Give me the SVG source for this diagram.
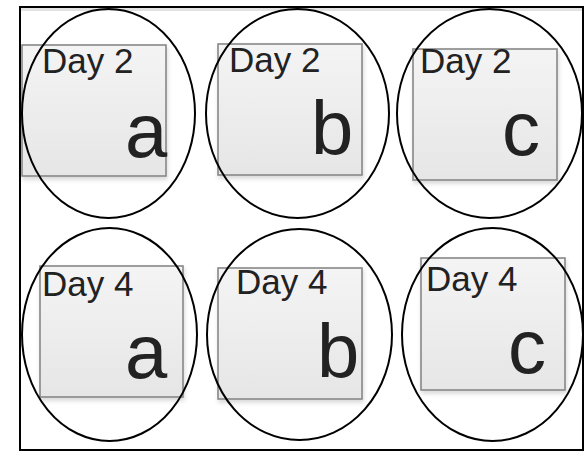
<svg xmlns="http://www.w3.org/2000/svg" width="588" height="453" viewBox="0 0 588 453">
<defs>
<linearGradient id="g" x1="0" y1="0" x2="0" y2="1">
<stop offset="0" stop-color="#f4f4f4"/>
<stop offset="1" stop-color="#e6e6e6"/>
</linearGradient>
<filter id="sh" x="-10%" y="-10%" width="130%" height="130%">
<feDropShadow dx="1" dy="3" stdDeviation="2" flood-color="#000" flood-opacity="0.15"/>
</filter>
</defs>
<style>
.frame{fill:#fff;stroke:#000;stroke-width:2}
.box{fill:url(#g);stroke:#888;stroke-width:1.6;filter:url(#sh)}
.ring{fill:none;stroke:#000;stroke-width:2}
.day{font-family:"Liberation Sans",Arial,sans-serif;font-size:35px;fill:#222}
.big{font-family:"Liberation Sans",Arial,sans-serif;font-size:76px;fill:#222}
</style>
<rect width="588" height="453" fill="#fff"/>
<rect class="frame" x="20" y="7" width="563" height="443"/>
<line x1="21" y1="9.5" x2="582" y2="9.5" stroke="#e2e2e2" stroke-width="3"/>
<g id="day2a">
<rect class="box" x="22" y="45" width="144" height="131"/>
<text class="day" x="42" y="73">Day 2</text>
<text class="big" x="125" y="157">a</text>
<ellipse class="ring" cx="108.5" cy="113.5" rx="86.5" ry="104.5"/>
</g>
<g id="day2b">
<rect class="box" x="218" y="44" width="144" height="131"/>
<text class="day" x="229" y="72">Day 2</text>
<text class="big" x="311" y="154">b</text>
<ellipse class="ring" cx="297.5" cy="113.5" rx="91.5" ry="104.5"/>
</g>
<g id="day2c">
<rect class="box" x="413" y="49" width="144" height="131"/>
<text class="day" x="420" y="73">Day 2</text>
<text class="big" x="502" y="155">c</text>
<ellipse class="ring" cx="489.5" cy="113.5" rx="92.5" ry="104.5"/>
</g>
<g id="day4a">
<rect class="box" x="40" y="266" width="143" height="131"/>
<text class="day" x="42" y="296">Day 4</text>
<text class="big" x="125" y="378">a</text>
<ellipse class="ring" cx="109.5" cy="334.5" rx="87.5" ry="106.5"/>
</g>
<g id="day4b">
<rect class="box" x="218" y="268" width="144" height="131"/>
<text class="day" x="236" y="294">Day 4</text>
<text class="big" x="317" y="377">b</text>
<ellipse class="ring" cx="299.5" cy="334.5" rx="92.5" ry="105.5"/>
</g>
<g id="day4c">
<rect class="box" x="421" y="258" width="144" height="132"/>
<text class="day" x="426" y="291">Day 4</text>
<text class="big" x="508" y="373">c</text>
<ellipse class="ring" cx="492.5" cy="334.5" rx="90.5" ry="106.5"/>
</g>
</svg>
